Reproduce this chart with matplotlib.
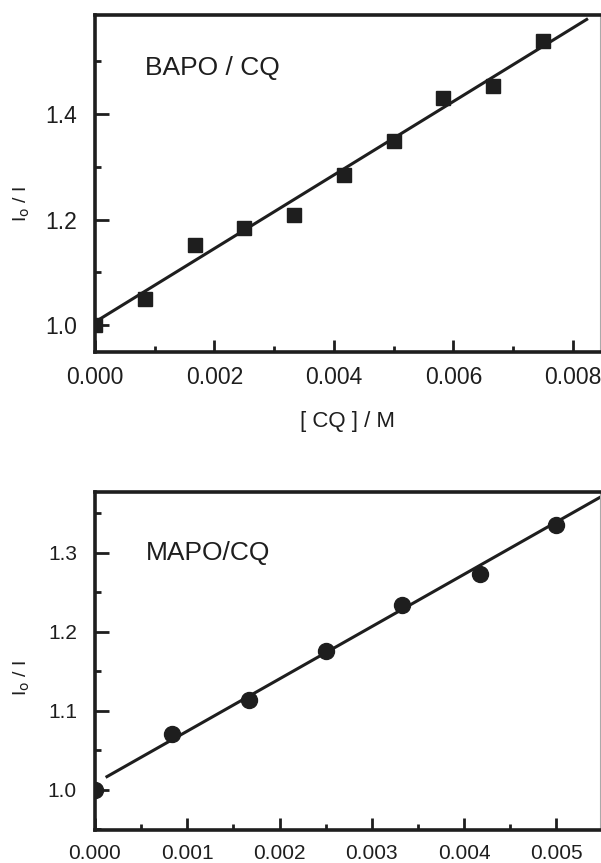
import matplotlib
matplotlib.use("Agg")
import matplotlib.pyplot as plt
from matplotlib.ticker import MultipleLocator, FormatStrFormatter

plt.rcParams['font.family'] = ['Liberation Sans', 'DejaVu Sans']

# BAPO / CQ
bapo_cq = [0.0, 0.00083, 0.00167, 0.0025, 0.00333, 0.00417, 0.005, 0.00583, 0.00667, 0.0075]
bapo_ratio = [1.0, 1.05, 1.152, 1.184, 1.208, 1.284, 1.35, 1.43, 1.453, 1.538]
bapo_fit = [1.006, 69.7]      # intercept, slope
bapo_fit_x = [0.0, 0.00823]

# MAPO / CQ
mapo_cq = [0.0, 0.00083, 0.00167, 0.0025, 0.00333, 0.00417, 0.005]
mapo_ratio = [1.0, 1.071, 1.114, 1.176, 1.234, 1.273, 1.335]
mapo_fit = [1.008, 66.2]
mapo_fit_x = [0.00013, 0.0055]

INK = '#1e1e1e'


def style_axes(ax, xmajor, ymajor, size):
    for side in ['left', 'bottom', 'top']:
        ax.spines[side].set_linewidth(2.6)
        ax.spines[side].set_color(INK)
    ax.spines['right'].set_linewidth(0.8)
    ax.spines['right'].set_color('#aaaaaa')
    ax.xaxis.set_major_locator(MultipleLocator(xmajor))
    ax.xaxis.set_minor_locator(MultipleLocator(xmajor / 2))
    ax.yaxis.set_major_locator(MultipleLocator(ymajor))
    ax.yaxis.set_minor_locator(MultipleLocator(ymajor / 2))
    ax.xaxis.set_major_formatter(FormatStrFormatter('%.3f'))
    ax.yaxis.set_major_formatter(FormatStrFormatter('%.1f'))
    ax.tick_params(which='both', direction='in', top=False, right=False,
                   width=2, color=INK, labelsize=size, labelcolor=INK)
    ax.tick_params(axis='x', which='major', length=9, pad=10)
    ax.tick_params(axis='y', which='major', length=10, pad=13)
    ax.tick_params(which='minor', length=4)


fig = plt.figure(figsize=(6.01, 8.63), dpi=100)

ax1 = fig.add_axes([0.158, 0.592, 0.84, 0.3906])
ax1.plot(bapo_cq, bapo_ratio, 's', color=INK, markersize=10)
ax1.plot(bapo_fit_x, [bapo_fit[0] + bapo_fit[1] * x for x in bapo_fit_x], '-', color=INK, lw=2.2)
ax1.set_xlim(0, 0.00845)
ax1.set_ylim(0.949, 1.588)
style_axes(ax1, 0.002, 0.2, 16.5)
ax1.text(0.00084, 1.487, 'BAPO / CQ', fontsize=19, color=INK, va='center', ha='left')
ax1.set_xlabel('[ CQ ] / M', fontsize=16, color=INK, labelpad=16)
ax1.set_ylabel(r'I$_{\rm o}$ / I', fontsize=14, color=INK)
ax1.yaxis.set_label_coords(-0.125, 0.44)

ax2 = fig.add_axes([0.158, 0.0382, 0.84, 0.3917])
ax2.plot(mapo_cq, mapo_ratio, 'o', color=INK, markersize=11.5)
ax2.plot(mapo_fit_x, [mapo_fit[0] + mapo_fit[1] * x for x in mapo_fit_x], '-', color=INK, lw=2.2)
ax2.set_xlim(0, 0.00547)
ax2.set_ylim(0.949, 1.377)
style_axes(ax2, 0.001, 0.1, 15)
ax2.text(0.00055, 1.30, 'MAPO/CQ', fontsize=19, color=INK, va='center', ha='left')
ax2.set_ylabel(r'I$_{\rm o}$ / I', fontsize=14, color=INK)
ax2.yaxis.set_label_coords(-0.125, 0.45)

fig.savefig('out.png', dpi=100)
